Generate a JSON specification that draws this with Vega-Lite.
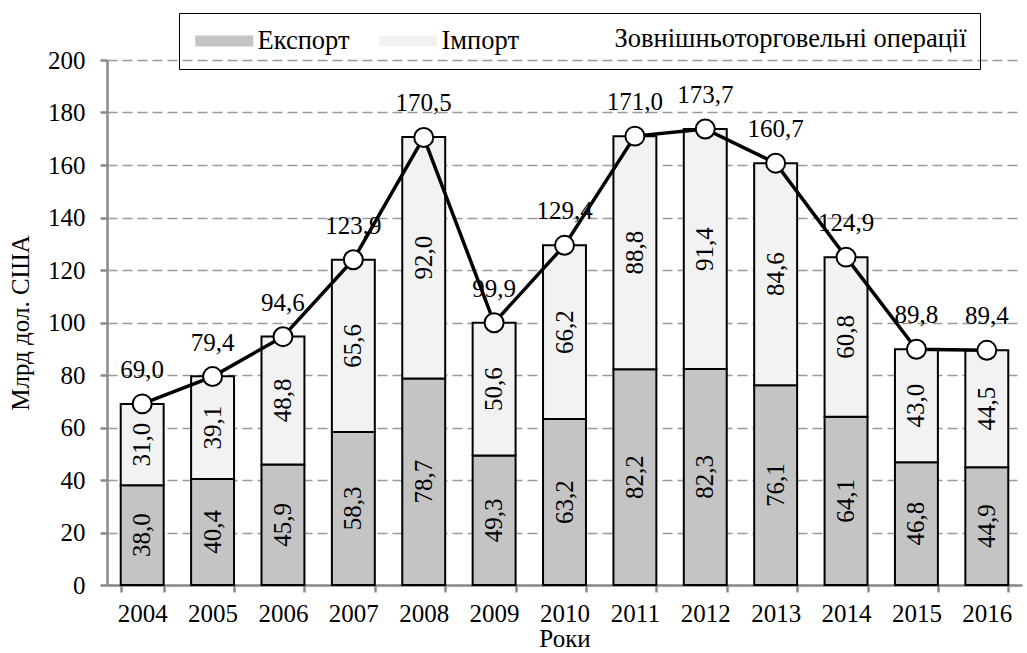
{
  "$schema": "https://vega.github.io/schema/vega-lite/v6.json",
  "width": 1027,
  "height": 653,
  "autosize": {"type": "fit", "contains": "padding"},
  "padding": {"left": 8, "right": 5, "top": 48, "bottom": 2},
  "background": "white",
  "config": {
    "font": "Liberation Serif",
    "locale": {"number": {"decimal": ",", "thousands": " ", "grouping": [3], "currency": ["", ""]}},
    "view": {"stroke": null},
    "axis": {"labelFont": "Liberation Serif", "titleFont": "Liberation Serif", "labelFontSize": 25, "titleFontSize": 25, "titleFontWeight": "normal", "labelColor": "black", "titleColor": "black", "domainColor": "#8a8a8a", "tickColor": "#8a8a8a", "domainWidth": 2.5, "tickWidth": 2.5}
  },
  "datasets": {
    "trade": [
      {"year": "2004", "type": "Експорт", "value": 38.0},
      {"year": "2004", "type": "Імпорт", "value": 31.0},
      {"year": "2005", "type": "Експорт", "value": 40.4},
      {"year": "2005", "type": "Імпорт", "value": 39.1},
      {"year": "2006", "type": "Експорт", "value": 45.9},
      {"year": "2006", "type": "Імпорт", "value": 48.8},
      {"year": "2007", "type": "Експорт", "value": 58.3},
      {"year": "2007", "type": "Імпорт", "value": 65.6},
      {"year": "2008", "type": "Експорт", "value": 78.7},
      {"year": "2008", "type": "Імпорт", "value": 92.0},
      {"year": "2009", "type": "Експорт", "value": 49.3},
      {"year": "2009", "type": "Імпорт", "value": 50.6},
      {"year": "2010", "type": "Експорт", "value": 63.2},
      {"year": "2010", "type": "Імпорт", "value": 66.2},
      {"year": "2011", "type": "Експорт", "value": 82.2},
      {"year": "2011", "type": "Імпорт", "value": 88.8},
      {"year": "2012", "type": "Експорт", "value": 82.3},
      {"year": "2012", "type": "Імпорт", "value": 91.4},
      {"year": "2013", "type": "Експорт", "value": 76.1},
      {"year": "2013", "type": "Імпорт", "value": 84.6},
      {"year": "2014", "type": "Експорт", "value": 64.1},
      {"year": "2014", "type": "Імпорт", "value": 60.8},
      {"year": "2015", "type": "Експорт", "value": 46.8},
      {"year": "2015", "type": "Імпорт", "value": 43.0},
      {"year": "2016", "type": "Експорт", "value": 44.9},
      {"year": "2016", "type": "Імпорт", "value": 44.5}
    ],
    "total": [
      {"year": "2004", "total": 69.0},
      {"year": "2005", "total": 79.4},
      {"year": "2006", "total": 94.6},
      {"year": "2007", "total": 123.9},
      {"year": "2008", "total": 170.5},
      {"year": "2009", "total": 99.9},
      {"year": "2010", "total": 129.4},
      {"year": "2011", "total": 171.0},
      {"year": "2012", "total": 173.7},
      {"year": "2013", "total": 160.7},
      {"year": "2014", "total": 124.9},
      {"year": "2015", "total": 89.8},
      {"year": "2016", "total": 89.4}
    ]
  },
  "encoding": {
    "x": {
      "field": "year", "type": "ordinal", "title": "Роки",
      "scale": {"paddingInner": 0.39, "paddingOuter": 0.195},
      "axis": {"labelAngle": 0, "tickBand": "extent", "tickSize": 7, "labelPadding": 9, "titlePadding": 0}
    }
  },
  "layer": [
    {
      "data": {"name": "trade"},
      "mark": {"type": "bar", "stroke": "black", "strokeWidth": 2},
      "encoding": {
        "y": {
          "field": "value", "type": "quantitative", "stack": "zero",
          "title": "Млрд дол. США",
          "scale": {"domain": [0, 200]},
          "axis": {"values": [0, 20, 40, 60, 80, 100, 120, 140, 160, 180, 200], "grid": true, "gridDash": [10, 5], "gridColor": "#9a9a9a", "gridWidth": 1.5, "tickSize": 7, "labelPadding": 15, "titlePadding": 14}
        },
        "color": {
          "field": "type", "type": "nominal",
          "scale": {"domain": ["Експорт", "Імпорт", "Зовнішньоторговельні операції"], "range": ["#c4c4c4", "#f2f2f2", "white"]},
          "legend": {
            "title": null, "orient": "none", "legendX": 72, "legendY": -47, "direction": "horizontal",
            "labelFont": "Liberation Serif", "labelFontSize": 26.5, "labelColor": "black", "labelLimit": 600,
            "symbolSize": 400, "labelOffset": 39, "columnPadding": 25,
            "symbolType": "M-1,-0.55H4.8V0.55H-1Z",
            "symbolStrokeColor": "black", "symbolStrokeWidth": 2,
            "strokeColor": "black", "padding": 13,
            "encode": {
              "legend": {"strokeWidth": {"value": 2}},
              "symbols": {
                "update": {
                  "shape": {"signal": "datum.value === 'Зовнішньоторговельні операції' ? 'M-1,0H0.95M2.85,0H4.8M0.95,0A0.95,0.95,0,1,1,2.85,0A0.95,0.95,0,1,1,0.95,0Z' : 'M-1,-0.55H4.8V0.55H-1Z'"},
                  "fill": {"signal": "datum.value === 'Зовнішньоторговельні операції' ? 'white' : scale('color', datum.value)"},
                  "strokeWidth": {"signal": "datum.value === 'Зовнішньоторговельні операції' ? 3.5 : 2"}
                }
              }
            }
          }
        },
        "order": {"field": "type", "sort": "descending"}
      }
    },
    {
      "data": {"name": "trade"},
      "transform": [
        {"stack": "value", "groupby": ["year"], "sort": [{"field": "type", "order": "descending"}], "as": ["v0", "v1"]},
        {"calculate": "(datum.v0 + datum.v1) / 2", "as": "mid"}
      ],
      "mark": {"type": "text", "angle": 270, "fontSize": 25, "font": "Liberation Serif", "color": "black", "baseline": "middle", "align": "center"},
      "encoding": {
        "y": {"field": "mid", "type": "quantitative"},
        "text": {"field": "value", "type": "quantitative", "format": ".1f"}
      }
    },
    {
      "data": {"name": "total"},
      "mark": {"type": "line", "strokeWidth": 3.5, "color": "black"},
      "encoding": {
        "y": {"field": "total", "type": "quantitative"}
      }
    },
    {
      "data": {"name": "total"},
      "mark": {"type": "point", "filled": true, "fill": "white", "stroke": "black", "strokeWidth": 2, "size": 360, "opacity": 1},
      "encoding": {
        "y": {"field": "total", "type": "quantitative"}
      }
    },
    {
      "data": {"name": "total"},
      "mark": {"type": "text", "fontSize": 25, "font": "Liberation Serif", "color": "black", "dy": -34, "baseline": "middle"},
      "encoding": {
        "y": {"field": "total", "type": "quantitative"},
        "text": {"field": "total", "type": "quantitative", "format": ".1f"}
      }
    }
  ]
}
